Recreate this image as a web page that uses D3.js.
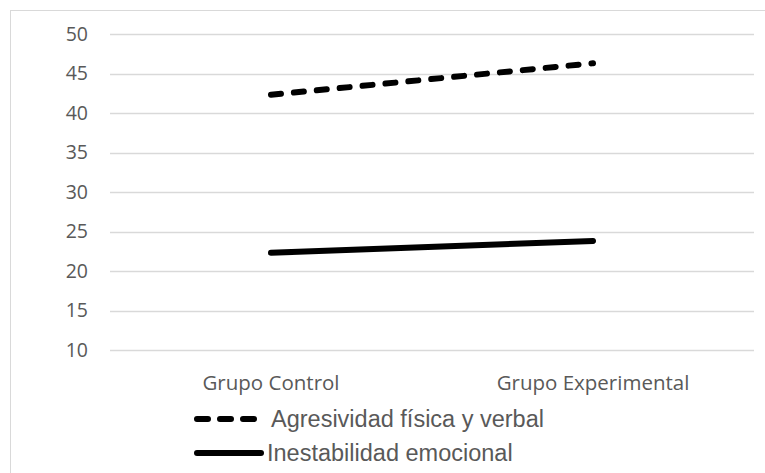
<!DOCTYPE html>
<html><head><meta charset="utf-8">
<script src="https://cdn.jsdelivr.net/npm/d3@7"></script>
<style>
html,body{margin:0;padding:0;background:#fff;}
svg{display:block;}
</style></head>
<body>
<script>
const categories = ["Grupo Control", "Grupo Experimental"];
const seriesNames = ["Agresividad física y verbal", "Inestabilidad emocional"];
const agresividad = [42.3, 46.3];
const inestabilidad = [22.3, 23.8];
const yTicks = [10, 15, 20, 25, 30, 35, 40, 45, 50];

const W = 765, H = 473;
const svg = d3.select("body").append("svg").attr("width", W).attr("height", H);

// outer chart border (clipped at right/bottom)
svg.append("rect").attr("x", 10.5).attr("y", 10.5).attr("width", W + 10).attr("height", H + 10)
  .attr("fill", "none").attr("stroke", "#d9d9d9").attr("stroke-width", 1);

const plot = {left: 110, right: 754, top: 34, bottom: 350};
const x = d3.scaleBand().domain(categories).range([plot.left, plot.right]);
const y = d3.scaleLinear().domain([10, 50]).range([plot.bottom, plot.top]);

// gridlines
svg.append("g").selectAll("line").data(yTicks).join("line")
  .attr("x1", plot.left).attr("x2", plot.right)
  .attr("y1", d => Math.round(y(d)) + 0.5).attr("y2", d => Math.round(y(d)) + 0.5)
  .attr("stroke", "#d9d9d9").attr("stroke-width", 1.3);

// y axis labels
const yAxis = d3.axisLeft(y).tickValues(yTicks).tickSize(0).tickPadding(0);
const gy = svg.append("g").attr("transform", `translate(88,0)`).call(yAxis);
gy.select(".domain").remove();
gy.selectAll("text").attr("font-family", "Open Sans, sans-serif").attr("font-size", 19.5)
  .attr("fill", "#595959");

// x axis labels
const xAxis = d3.axisBottom(x).tickSize(0).tickPadding(0);
const gx = svg.append("g").attr("transform", `translate(0,390)`).call(xAxis);
gx.select(".domain").remove();
gx.selectAll("text").attr("y", 0).attr("dy", 0)
  .attr("font-family", "Open Sans, sans-serif").attr("font-size", 20.5)
  .attr("fill", "#595959");

const line = d3.line().x((d, i) => x(categories[i]) + x.bandwidth() / 2).y(d => y(d));

svg.append("path").datum(agresividad).attr("d", line)
  .attr("fill", "none").attr("stroke", "#000").attr("stroke-width", 6)
  .attr("stroke-linecap", "round").attr("stroke-dasharray", "10,13");
svg.append("path").datum(inestabilidad).attr("d", line)
  .attr("fill", "none").attr("stroke", "#000").attr("stroke-width", 6)
  .attr("stroke-linecap", "round");

// legend
const legend = svg.append("g");
const legendY = [419, 453];
const dashes = ["11,12", null];
seriesNames.forEach((name, i) => {
  const l = legend.append("line").attr("x1", 197).attr("x2", 261)
    .attr("y1", legendY[i]).attr("y2", legendY[i])
    .attr("stroke", "#000").attr("stroke-width", 6).attr("stroke-linecap", "round");
  if (dashes[i]) l.attr("stroke-dasharray", dashes[i]);
  legend.append("text").attr("x", i === 0 ? 271 : 267).attr("y", legendY[i] + 8)
    .attr("font-family", "Liberation Sans, Arial, sans-serif").attr("font-size", 23.5)
    .attr("fill", "#595959").text(name);
});
</script>
</body></html>
